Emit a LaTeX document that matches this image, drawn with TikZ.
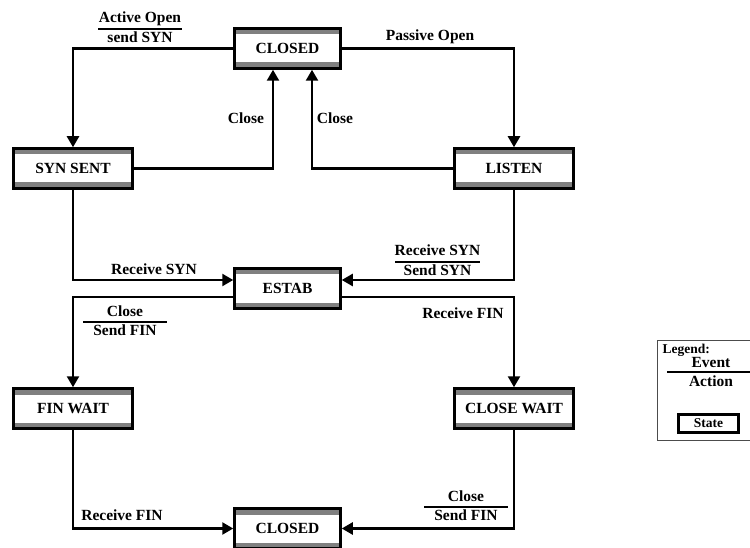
\documentclass[tikz,border=0pt]{standalone}
\usepackage{fontspec}
\setmainfont{Liberation Serif}
\usetikzlibrary{arrows.meta}

\newcommand{\statefont}{\fontsize{15.5}{18}\selectfont\bfseries}
\newcommand{\legfont}{\fontsize{13.5}{16}\selectfont\bfseries}
% event over action
\newcommand{\evact}[3]{\setlength{\arrayrulewidth}{1.2pt}\begin{tabular}{@{}c@{}}\makebox[#1]{#2}\\\hline #3\end{tabular}}

\tikzset{
  statebox/.style={draw, line width=2.5pt, minimum width=106pt, minimum height=40pt, inner sep=0pt, font=\statefont,
    path picture={
      \fill[black!50] (path picture bounding box.north west) rectangle ([yshift=-6pt]path picture bounding box.north east);
      \fill[black!50] (path picture bounding box.south west) rectangle ([yshift=6pt]path picture bounding box.south east);}},
  wide/.style={minimum width=119pt},
  link/.style={line width=2.4pt, -{Triangle[width=12pt,length=11pt]}},
  evlabel/.style={font=\statefont, inner sep=0pt},
}

\begin{document}
\begin{tikzpicture}[x=1pt, y=-1pt]
\useasboundingbox (0,0) rectangle (750,548);

%states
\node[statebox] (closed) at (287.5,48.5) {CLOSED};
\node[statebox, wide] (synsent) at (73,168.5) {SYN SENT};
\node[statebox, wide] (listen) at (514,168.5) {LISTEN};
\node[statebox] (estab) at (287.5,288.5) {ESTAB};
\node[statebox, wide] (finwait) at (73,408.5) {FIN WAIT};
\node[statebox, wide] (closewait) at (514,408.5) {CLOSE WAIT};
\node[statebox] (closedb) at (287.5,528.5) {CLOSED};

%open
\draw[link] (closed.west) -| (synsent.north);
\draw[link] (closed.east) -| (listen.north);
\node[evlabel] (actopen) at (140,29) {\evact{84pt}{Active Open}{send SYN}};
\node[evlabel] (pasopen) at (430,37) {Passive Open};

%close
\draw[link] (synsent.east) -| ([xshift=-14.5pt]closed.south);
\draw[link] (listen.west) -| ([xshift=24.5pt]closed.south);
\node[evlabel] (closea) at (246,118) {Close};
\node[evlabel] (closeb) at (335,118) {Close};

%estab
\draw[link] (synsent.south) |- ([yshift=8.5pt]estab.west);
\draw[link] (listen.south) |- ([yshift=8.5pt]estab.east);
\node[evlabel] (rcvsyn) at (154,269) {Receive SYN};
\node[evlabel] (rcvsynb) at (437.5,262) {\evact{85pt}{Receive SYN}{Send SYN}};

%fin
\draw[link] ([yshift=-8.5pt]estab.west) -| (finwait.north);
\draw[link] ([yshift=-8.5pt]estab.east) -| (closewait.north);
\node[evlabel] (closefin) at (125,322) {\evact{84pt}{Close}{Send FIN}};
\node[evlabel] (rcvfin) at (463,313) {Receive FIN};

%closed
\draw[link] (finwait.south) |- (closedb.west);
\draw[link] (closewait.south) |- (closedb.east);
\node[evlabel] (rcvfinb) at (122,515) {Receive FIN};
\node[evlabel] (closefinb) at (466,507) {\evact{84pt}{Close}{Send FIN}};

%legend
\draw[black!70, line width=0.8pt] (751,340) -| (657,440) -- (751,440);
\node[font=\legfont, anchor=west] (legend) at (659,350) {Legend:};
\node[evlabel] (evt) at (711,362) {Event};
\draw[line width=1.2pt] (667,372) -- (750,372);
\node[evlabel] (act) at (711,381) {Action};
\node[draw, line width=3pt, minimum width=60pt, minimum height=18pt, inner sep=0pt, font=\legfont] (state) at (708.5,423.5) {State};
\end{tikzpicture}
\end{document}
